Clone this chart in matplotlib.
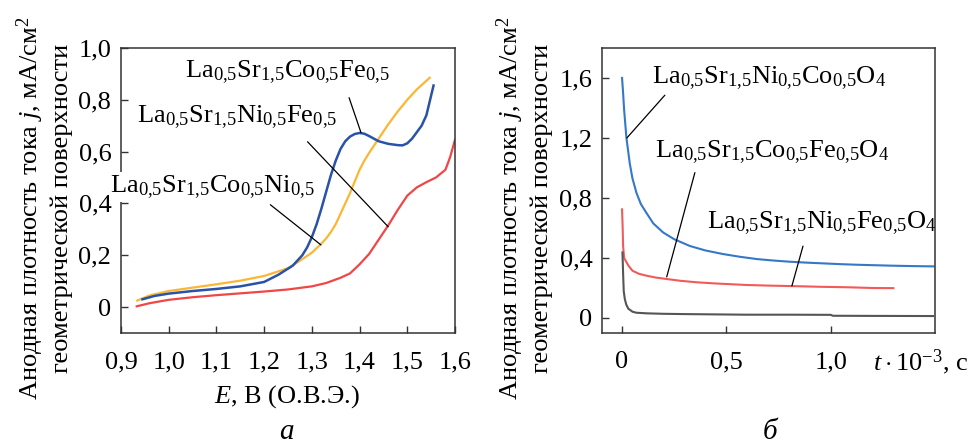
import matplotlib
matplotlib.use("Agg")
import matplotlib.pyplot as plt

plt.rcParams['font.family'] = 'serif'
plt.rcParams['font.serif'] = ['Liberation Serif', 'DejaVu Serif']
plt.rcParams['mathtext.fontset'] = 'custom'
plt.rcParams['mathtext.rm'] = 'Liberation Serif'
plt.rcParams['mathtext.it'] = 'Liberation Serif:italic'
plt.rcParams['mathtext.bf'] = 'Liberation Serif:bold'

# ---- panel a: j vs E ----
yellow_E = [0.934, 0.96, 1.0, 1.05, 1.1, 1.15, 1.2, 1.25, 1.28, 1.3, 1.32, 1.33, 1.34, 1.35, 1.36, 1.37, 1.38, 1.39, 1.4, 1.41, 1.42, 1.44, 1.46, 1.48, 1.5, 1.52, 1.547]
yellow_j = [0.025, 0.045, 0.062, 0.075, 0.088, 0.102, 0.12, 0.15, 0.185, 0.21, 0.245, 0.265, 0.29, 0.32, 0.36, 0.40, 0.44, 0.485, 0.53, 0.565, 0.595, 0.65, 0.705, 0.755, 0.80, 0.84, 0.885]
blue_E = [0.945, 0.97, 1.0, 1.05, 1.1, 1.15, 1.2, 1.23, 1.26, 1.28, 1.29, 1.3, 1.31, 1.32, 1.33, 1.34, 1.35, 1.36, 1.37, 1.38, 1.39, 1.40, 1.41, 1.42, 1.44, 1.46, 1.48, 1.49, 1.5, 1.51, 1.52, 1.53, 1.54, 1.555]
blue_j = [0.03, 0.043, 0.052, 0.062, 0.07, 0.08, 0.097, 0.125, 0.16, 0.2, 0.23, 0.27, 0.32, 0.38, 0.445, 0.51, 0.565, 0.61, 0.64, 0.658, 0.668, 0.672, 0.669, 0.66, 0.64, 0.63, 0.625, 0.624, 0.632, 0.65, 0.675, 0.7, 0.74, 0.855]
red_E = [0.933, 0.96, 1.0, 1.05, 1.1, 1.15, 1.2, 1.25, 1.3, 1.33, 1.36, 1.38, 1.40, 1.42, 1.44, 1.46, 1.48, 1.5, 1.52, 1.54, 1.56, 1.58, 1.59, 1.6]
red_j = [0.003, 0.015, 0.028, 0.038, 0.046, 0.053, 0.06, 0.068, 0.08, 0.093, 0.113, 0.13, 0.165, 0.205, 0.26, 0.315, 0.375, 0.43, 0.462, 0.482, 0.5, 0.53, 0.58, 0.646]

labels_a = [r"La$_{0{,}5}$Sr$_{1{,}5}$Co$_{0{,}5}$Fe$_{0{,}5}$",
            r"La$_{0{,}5}$Sr$_{1{,}5}$Ni$_{0{,}5}$Fe$_{0{,}5}$",
            r"La$_{0{,}5}$Sr$_{1{,}5}$Co$_{0{,}5}$Ni$_{0{,}5}$"]
label_pos_a = [(1.249, 0.908), (1.143, 0.731), (1.092, 0.464)]
leader_start_a = [(1.378, 0.808), (1.291, 0.638), (1.213, 0.395)]
leader_end_a = [(1.403, 0.673), (1.46, 0.31), (1.319, 0.24)]

# ---- panel b: j vs t ----
blueb_t = [0, 0.005, 0.01, 0.021, 0.037, 0.05, 0.069, 0.09, 0.117, 0.15, 0.197, 0.25, 0.325, 0.4, 0.485, 0.565, 0.645, 0.725, 0.805, 0.885, 0.965, 1.045, 1.125, 1.205, 1.285, 1.39, 1.493]
blueb_j = [1.6, 1.5, 1.386, 1.2, 1.03, 0.93, 0.834, 0.76, 0.70, 0.63, 0.57, 0.525, 0.48, 0.45, 0.426, 0.408, 0.393, 0.383, 0.375, 0.369, 0.364, 0.359, 0.355, 0.352, 0.349, 0.346, 0.344]
redb_t = [0, 0.003, 0.005, 0.01, 0.02, 0.03, 0.05, 0.08, 0.117, 0.16, 0.213, 0.28, 0.357, 0.45, 0.597, 0.7, 0.837, 0.95, 1.077, 1.2, 1.3]
redb_j = [0.724, 0.6, 0.48, 0.40, 0.375, 0.35, 0.315, 0.295, 0.282, 0.27, 0.26, 0.248, 0.238, 0.23, 0.22, 0.216, 0.212, 0.208, 0.205, 0.2, 0.199]
greyb_t = [0.002, 0.005, 0.008, 0.013, 0.02, 0.03, 0.05, 0.069, 0.12, 0.197, 0.3, 0.45, 0.597, 0.8, 1.0, 1.01, 1.2, 1.49]
greyb_j = [0.437, 0.3, 0.18, 0.128, 0.09, 0.062, 0.042, 0.035, 0.031, 0.028, 0.026, 0.024, 0.022, 0.022, 0.021, 0.015, 0.014, 0.013]

labels_b = [r"La$_{0{,}5}$Sr$_{1{,}5}$Ni$_{0{,}5}$Co$_{0{,}5}$O$_4$",
            r"La$_{0{,}5}$Sr$_{1{,}5}$Co$_{0{,}5}$Fe$_{0{,}5}$O$_4$",
            r"La$_{0{,}5}$Sr$_{1{,}5}$Ni$_{0{,}5}$Fe$_{0{,}5}$O$_4$"]
label_pos_b = [(0.704, 1.598), (0.718, 1.108), (0.958, 0.631)]
leader_start_b = [(0.205, 1.485), (0.349, 0.969), (0.867, 0.479)]
leader_end_b = [(0.023, 1.20), (0.214, 0.274), (0.814, 0.214)]

xticks_a = [0.9, 1.0, 1.1, 1.2, 1.3, 1.4, 1.5, 1.6]
xticklabels_a = ["0,9", "1,0", "1,1", "1,2", "1,3", "1,4", "1,5", "1,6"]
yticks_a = [0, 0.2, 0.4, 0.6, 0.8, 1.0]
yticklabels_a = ["0", "0,2", "0,4", "0,6", "0,8", "1,0"]
xticks_b = [0, 0.5, 1.0]
xticklabels_b = ["0", "0,5", "1,0"]
yticks_b = [0, 0.4, 0.8, 1.2, 1.6]
yticklabels_b = ["0", "0,4", "0,8", "1,2", "1,6"]

FS = 19
fig = plt.figure(figsize=(9.71, 4.44), dpi=100)
axA = fig.add_axes([0.1246, 0.25, 0.344, 0.642])
axB = fig.add_axes([0.620, 0.25, 0.343, 0.642])

for ax in (axA, axB):
    for s in ax.spines.values():
        s.set_linewidth(1.1)
        s.set_color('#333333')
    ax.tick_params(direction='in', length=5, width=1.0, labelsize=FS, color='#333333')
    ax.tick_params(axis='x', pad=13)
    ax.tick_params(axis='y', pad=7)

axA.plot(yellow_E, yellow_j, color='#fbb733', lw=1.6)
axA.plot(blue_E, blue_j, color='#2a52a8', lw=1.8)
axA.plot(red_E, red_j, color='#f04646', lw=1.6)
axA.set_xlim(0.9, 1.6)
axA.set_ylim(-0.1, 1.0)
axA.set_xticks(xticks_a)
axA.set_xticklabels(xticklabels_a)
axA.set_yticks(yticks_a)
axA.set_yticklabels(yticklabels_a)
for t, p, s, e in zip(labels_a, label_pos_a, leader_start_a, leader_end_a):
    axA.annotate('', xy=e, xytext=s, arrowprops=dict(arrowstyle='-', color='black', lw=0.9, shrinkA=0, shrinkB=0))
    axA.text(p[0], p[1], t, fontsize=FS, ha='center', va='center', zorder=5, clip_on=False,
             bbox=dict(fc='white', ec='none', pad=1))

axB.plot(redb_t, redb_j, color='#f25a5a', lw=1.5)
axB.plot(greyb_t, greyb_j, color='#555555', lw=1.5)
axB.plot(blueb_t, blueb_j, color='#3478c8', lw=1.5)
axB.set_xlim(-0.096, 1.5)
axB.set_ylim(-0.1, 1.8)
axB.set_xticks(xticks_b)
axB.set_xticklabels(xticklabels_b)
axB.set_yticks(yticks_b)
axB.set_yticklabels(yticklabels_b)
for t, p, s, e in zip(labels_b, label_pos_b, leader_start_b, leader_end_b):
    axB.annotate('', xy=e, xytext=s, arrowprops=dict(arrowstyle='-', color='black', lw=0.9, shrinkA=0, shrinkB=0))
    axB.text(p[0], p[1], t, fontsize=FS, ha='center', va='center', zorder=5, clip_on=False)

# y labels (two lines each)
ylab1 = r"Анодная плотность тока $j$, мА/см$^2$"
ylab2 = "геометрической поверхности"
W, H = 971, 444
for x1, x2 in ((30, 62), (510, 542)):
    fig.text(x1 / W, 1 - 208 / H, ylab1, rotation=90, ha='center', va='center', fontsize=FS)
    fig.text(x2 / W, 1 - 208 / H, ylab2, rotation=90, ha='center', va='center', fontsize=FS)

fig.text(287 / W, 1 - 397 / H, r"$E$, В (О.В.Э.)", ha='center', va='center', fontsize=FS)
fig.text(287 / W, 1 - 432 / H, r"$a$", ha='center', va='center', fontsize=FS + 2)
fig.text(770 / W, 1 - 432 / H, "б", ha='center', va='center', fontsize=FS + 2, style='italic')
fig.text(873 / W, 1 - 362 / H, r"$t\cdot10^{-3}$, с", ha='left', va='center', fontsize=FS)

fig.savefig("out.png", dpi=100)
